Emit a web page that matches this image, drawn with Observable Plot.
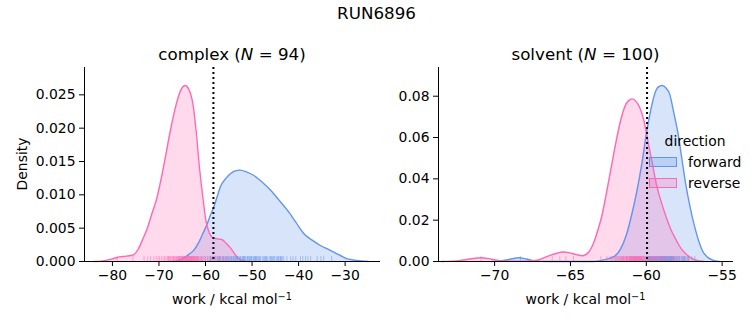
<!DOCTYPE html>
<html>
<head>
<meta charset="utf-8">
<script src="https://cdn.jsdelivr.net/npm/d3@7"></script>
<script src="https://cdn.jsdelivr.net/npm/@observablehq/plot@0.6"></script>
<style>
  body { margin: 0; background: #fff; }
  #fig { position: relative; width: 753px; height: 325px; font-family: "DejaVu Sans", sans-serif; color: #000; overflow: hidden; }
  .t { position: absolute; white-space: nowrap; line-height: 20px; }
  .sup { font-size: 0.7em; position: relative; top: -0.45em; }
  .patch { position: absolute; box-sizing: border-box; border-width: 1.3px; border-style: solid; }
</style>
</head>
<body>
<div id="fig"></div>
<script>
// ---------------- data ----------------
const figTitle = "RUN6896";
const panels = ["complex", "solvent"];
const panelN = [94, 100];
const directions = ["forward", "reverse"];
const colors = ["#6495ED", "#FF69B4"];
const xLabel = "work / kcal mol";

const complexXTicks = [-80, -70, -60, -50, -40, -30];
const complexYTicks = [0, 0.005, 0.010, 0.015, 0.020, 0.025];
const solventXTicks = [-70, -65, -60, -55];
const solventYTicks = [0, 0.02, 0.04, 0.06, 0.08];

// reference (dotted) lines
const complexRef = -58.3;
const solventRef = -59.95;

// KDE curves
const complexForwardX = [-67, -65.5, -64.5, -63.5, -62.5, -61.5, -60.5, -59.6, -58.9, -58.2, -57.5, -56.8, -55.7, -54.6, -53.6, -52.6, -51.1, -49.6, -47.8, -46.0, -44.2, -42.4, -40.6, -38.9, -37.1, -35.3, -33.8, -32.4, -31, -29.5, -28, -26.7, -25];
const complexForwardY = [0, 0.0002, 0.0006, 0.0011, 0.0017, 0.0028, 0.0043, 0.0057, 0.0070, 0.0082, 0.0097, 0.0112, 0.0124, 0.0132, 0.0136, 0.0137, 0.0134, 0.0129, 0.0119, 0.0107, 0.0092, 0.0077, 0.0059, 0.0042, 0.0032, 0.0024, 0.0019, 0.0014, 0.0009, 0.0004, 0.0002, 0.0001, 0];

const complexReverseX = [-84, -82, -80, -78.5, -77, -75.5, -74.5, -73.5, -72.5, -71.5, -70.5, -69.5, -68.5, -67.5, -66.5, -65.5, -64.4, -63.5, -62.7, -62, -61.3, -60.6, -59.9, -59.2, -58.5, -57.5, -56.5, -55.5, -54.6, -53.7, -52.8, -51.8, -50.5];
const complexReverseY = [0, 0.0001, 0.0004, 0.0007, 0.0008, 0.0010, 0.0018, 0.0033, 0.0050, 0.0072, 0.0094, 0.0125, 0.0161, 0.0198, 0.0230, 0.0254, 0.0264, 0.0257, 0.0236, 0.0195, 0.0141, 0.0098, 0.0061, 0.0043, 0.0036, 0.0034, 0.0033, 0.0027, 0.0020, 0.0011, 0.0004, 0.0001, 0];

const solventForwardX = [-70.2, -69.5, -68.9, -68.4, -67.9, -67.3, -66.5, -63.5, -62.8, -62.1, -61.7, -61.3, -60.95, -60.66, -60.3, -60.0, -59.7, -59.45, -59.2, -58.95, -58.7, -58.46, -58.2, -57.9, -57.65, -57.4, -57.1, -56.8, -56.55, -56.3, -55.95, -55.6, -55.2];
const solventForwardY = [0, 0.0004, 0.0012, 0.0018, 0.0012, 0.0003, 0, 0, 0.0008, 0.0025, 0.0060, 0.0132, 0.0230, 0.0326, 0.0470, 0.0617, 0.0735, 0.0810, 0.0845, 0.0852, 0.0840, 0.0810, 0.0725, 0.0617, 0.0495, 0.0375, 0.0260, 0.0165, 0.0100, 0.0052, 0.0020, 0.0006, 0];

const solventReverseX = [-73.5, -72.5, -71.6, -70.9, -70.2, -69.5, -68.8, -68, -67.2, -66.5, -65.9, -65.5, -65.1, -64.6, -64.2, -63.8, -63.5, -63.2, -62.9, -62.64, -62.3, -61.98, -61.7, -61.43, -61.15, -60.92, -60.68, -60.44, -60.15, -59.9, -59.6, -59.34, -59.0, -58.68, -58.35, -58.0, -57.7, -57.36, -57.0, -56.7, -56.2];
const solventReverseY = [0, 0.0003, 0.0012, 0.0018, 0.0011, 0.0003, 0.0001, 0.0001, 0.0006, 0.0025, 0.0040, 0.0046, 0.0043, 0.0033, 0.0028, 0.0045, 0.0085, 0.0150, 0.0230, 0.0326, 0.0460, 0.0585, 0.0680, 0.0747, 0.0780, 0.0787, 0.0775, 0.0747, 0.0680, 0.0585, 0.0475, 0.0375, 0.0285, 0.0213, 0.0150, 0.0100, 0.0062, 0.0035, 0.0015, 0.0006, 0];

// rug samples (approximate positions of the tick marks)
const complexForwardRug = [-61.7, -60.8, -60.1, -59.5, -59.0, -58.6, -58.2, -57.8, -57.4, -57.0, -56.7, -56.4, -56.1, -55.8, -55.5, -55.2, -54.9, -54.6, -54.3, -54.0, -53.7, -53.4, -53.1, -52.8, -52.5, -52.2, -51.9, -51.6, -51.3, -51.0, -50.7, -50.4, -50.1, -49.8, -49.5, -49.2, -48.9, -48.6, -48.2, -47.5, -47.1, -46.7, -46.3, -45.9, -45.5, -45.1, -44.7, -44.3, -43.9, -43.5, -43.2, -41.7, -41.2, -40.6, -39.1, -38.5, -38.0, -37.4, -34.6, -32.9, -57.2, -56.9, -55.0, -54.4, -53.9, -53.2, -52.6, -52.0, -51.5, -50.9, -50.2, -49.6, -49.0, -48.4, -47.8, -46.9, -46.0, -45.3, -44.5, -43.7, -55.6, -56.2, -58.9, -53.5, -51.8, -50.5, -49.3, -47.3, -45.7, -44.0, -42.5, -39.6, -36.0, -35.2];
const complexReverseRug = [-79.0, -75.6, -73.2, -72.4, -71.8, -71.1, -70.6, -70.2, -69.9, -69.5, -69.1, -68.8, -68.5, -68.2, -67.9, -67.7, -67.4, -67.2, -67.0, -66.8, -66.6, -66.4, -66.2, -66.0, -65.9, -65.7, -65.5, -65.4, -65.2, -65.1, -64.9, -64.8, -64.7, -64.5, -64.4, -64.3, -64.2, -64.1, -64.0, -63.9, -63.8, -63.7, -63.6, -63.5, -63.4, -63.3, -63.2, -63.1, -63.0, -62.9, -62.8, -62.7, -62.6, -62.5, -62.4, -62.3, -62.2, -62.0, -61.9, -61.7, -61.5, -61.3, -61.1, -60.9, -60.6, -60.3, -60.0, -59.6, -59.2, -58.8, -58.4, -58.0, -57.6, -57.2, -56.8, -56.3, -55.8, -55.2, -66.3, -65.8, -65.3, -64.6, -64.05, -63.55, -63.05, -62.55, -64.95, -65.6, -66.9, -67.6, -68.0, -63.25, -62.15, -61.8];
const solventForwardRug = [-68.3, -62.0, -61.6, -61.3, -61.0, -60.8, -60.6, -60.4, -60.2, -60.0, -59.9, -59.85, -59.8, -59.75, -59.7, -59.65, -59.6, -59.55, -59.5, -59.45, -59.4, -59.35, -59.3, -59.25, -59.2, -59.15, -59.1, -59.05, -59.0, -58.95, -58.9, -58.85, -58.8, -58.75, -58.7, -58.65, -58.6, -58.55, -58.5, -58.45, -58.4, -58.35, -58.3, -58.25, -58.2, -58.15, -58.1, -58.0, -57.9, -57.8, -57.7, -57.6, -57.5, -57.4, -57.3, -57.2, -57.0, -56.8, -60.1, -59.95, -59.88, -59.78, -59.68, -59.58, -59.48, -59.38, -59.28, -59.18, -59.08, -58.98, -58.88, -58.78, -58.68, -58.58, -58.48, -58.38, -58.28, -58.18, -58.05, -57.95, -57.85, -57.65, -57.45, -57.25, -59.72, -59.52, -59.32, -59.12, -58.92, -58.72, -58.52, -58.32, -60.3, -60.5, -60.7, -59.02, -58.82, -58.62, -58.42, -57.55];
const solventReverseRug = [-70.9, -66.2, -65.7, -65.3, -64.8, -63.0, -62.6, -62.4, -62.2, -62.1, -62.0, -61.9, -61.8, -61.7, -61.6, -61.5, -61.45, -61.4, -61.35, -61.3, -61.25, -61.2, -61.15, -61.1, -61.05, -61.0, -60.95, -60.9, -60.85, -60.8, -60.75, -60.7, -60.65, -60.6, -60.55, -60.5, -60.45, -60.4, -60.35, -60.3, -60.25, -60.2, -60.1, -60.0, -59.9, -59.8, -59.7, -59.6, -59.5, -59.4, -59.3, -59.2, -59.1, -59.0, -58.9, -58.8, -58.6, -58.4, -58.2, -58.0, -57.8, -57.5, -57.2, -61.55, -61.48, -61.32, -61.22, -61.12, -61.02, -60.92, -60.82, -60.72, -60.62, -60.52, -60.42, -60.32, -60.15, -60.05, -59.95, -59.75, -59.55, -59.35, -61.75, -61.65, -61.08, -60.98, -60.88, -60.78, -60.68, -60.58, -60.48, -60.38, -60.22, -62.3, -61.85, -59.85, -59.45, -59.05, -58.7, -58.3];

// --------------- drawing ---------------
const FS = "13.9px";
const fig = document.getElementById("fig");
const zip = (xs, ys) => xs.map((x, i) => ({x, y: ys[i]}));

function addText(html, left, top, opts = {}) {
  const d = document.createElement("div");
  d.className = "t";
  d.innerHTML = html;
  d.style.left = left + "px";
  d.style.top = top + "px";
  d.style.fontSize = opts.size || FS;
  if (opts.center) d.style.transform = "translateX(-50%)" + (opts.rotate ? " rotate(-90deg)" : "");
  fig.appendChild(d);
  return d;
}

function panel(cfg) {
  const {left, width, marginLeft, marginRight, xDomain, xTicks, yDomain, yTicks, yFmt, curves, rugs, ref} = cfg;
  const rugH = (yDomain[1] - yDomain[0]) * 0.025;
  const marks = [];
  curves.forEach((c, i) => {
    marks.push(Plot.areaY(c, {x: "x", y: "y", fill: colors[i], fillOpacity: 0.25, curve: "monotone-x"}));
  });
  curves.forEach((c, i) => {
    marks.push(Plot.lineY(c, {x: "x", y: "y", stroke: colors[i], strokeWidth: 1.4, curve: "monotone-x"}));
  });
  rugs.forEach((r, i) => {
    marks.push(Plot.ruleX(r, {x: d => d, y1: 0, y2: rugH, stroke: colors[i], strokeOpacity: 0.5, strokeWidth: 1}));
  });
  marks.push(Plot.ruleX([ref], {stroke: "black", strokeWidth: 2, strokeDasharray: "2,3"}));
  marks.push(Plot.ruleX([xDomain[0]], {stroke: "black", strokeWidth: 1}));
  marks.push(Plot.ruleY([0], {stroke: "black", strokeWidth: 1}));
  marks.push(Plot.axisX({ticks: xTicks, tickFormat: d3.format(".0f"), tickSize: 5, tickPadding: 4, label: null}));
  marks.push(Plot.axisY({ticks: yTicks, tickFormat: d3.format(yFmt), tickSize: 5, tickPadding: 4, label: null}));
  const svg = Plot.plot({
    width, height: 325,
    marginLeft, marginRight, marginTop: 67, marginBottom: 64,
    x: {domain: xDomain},
    y: {domain: yDomain},
    style: {fontFamily: "DejaVu Sans", fontSize: FS, color: "black", background: "transparent", overflow: "visible"},
    marks
  });
  svg.style.position = "absolute";
  svg.style.left = left + "px";
  svg.style.top = "0px";
  fig.appendChild(svg);
}

panel({
  left: 0, width: 380, marginLeft: 84, marginRight: 0,
  xDomain: [-86, -22.4], xTicks: complexXTicks,
  yDomain: [0, 0.0291], yTicks: complexYTicks, yFmt: ".3f",
  curves: [zip(complexForwardX, complexForwardY), zip(complexReverseX, complexReverseY)],
  rugs: [complexForwardRug, complexReverseRug],
  ref: complexRef
});
panel({
  left: 380, width: 373, marginLeft: 58, marginRight: 20,
  xDomain: [-73.7, -54.25], xTicks: solventXTicks,
  yDomain: [0, 0.0939], yTicks: solventYTicks, yFmt: ".2f",
  curves: [zip(solventForwardX, solventForwardY), zip(solventReverseX, solventReverseY)],
  rugs: [solventForwardRug, solventReverseRug],
  ref: solventRef
});

// titles and labels
addText(figTitle, 376.5, 3, {center: true, size: "16.7px"});
addText(`${panels[0]} (<i>N</i> = ${panelN[0]})`, 232, 44, {center: true, size: "16.7px"});
addText(`${panels[1]} (<i>N</i> = ${panelN[1]})`, 585.5, 44, {center: true, size: "16.7px"});
addText(`${xLabel}<span class="sup">\u22121</span>`, 232, 289, {center: true});
addText(`${xLabel}<span class="sup">\u22121</span>`, 585.5, 289, {center: true});
const yl = addText("Density", 22, 154, {center: true, rotate: true});

// legend
addText("direction", 695, 131, {center: true});
directions.forEach((d, i) => {
  const p = document.createElement("div");
  p.className = "patch";
  p.style.left = "649px";
  p.style.top = (157 + i * 21) + "px";
  p.style.width = "28px";
  p.style.height = "10px";
  p.style.borderColor = colors[i];
  p.style.background = d3.color(colors[i]).copy({opacity: 0.25}).formatRgb();
  fig.appendChild(p);
  addText(d, 688, 152 + i * 21);
});
</script>
</body>
</html>
